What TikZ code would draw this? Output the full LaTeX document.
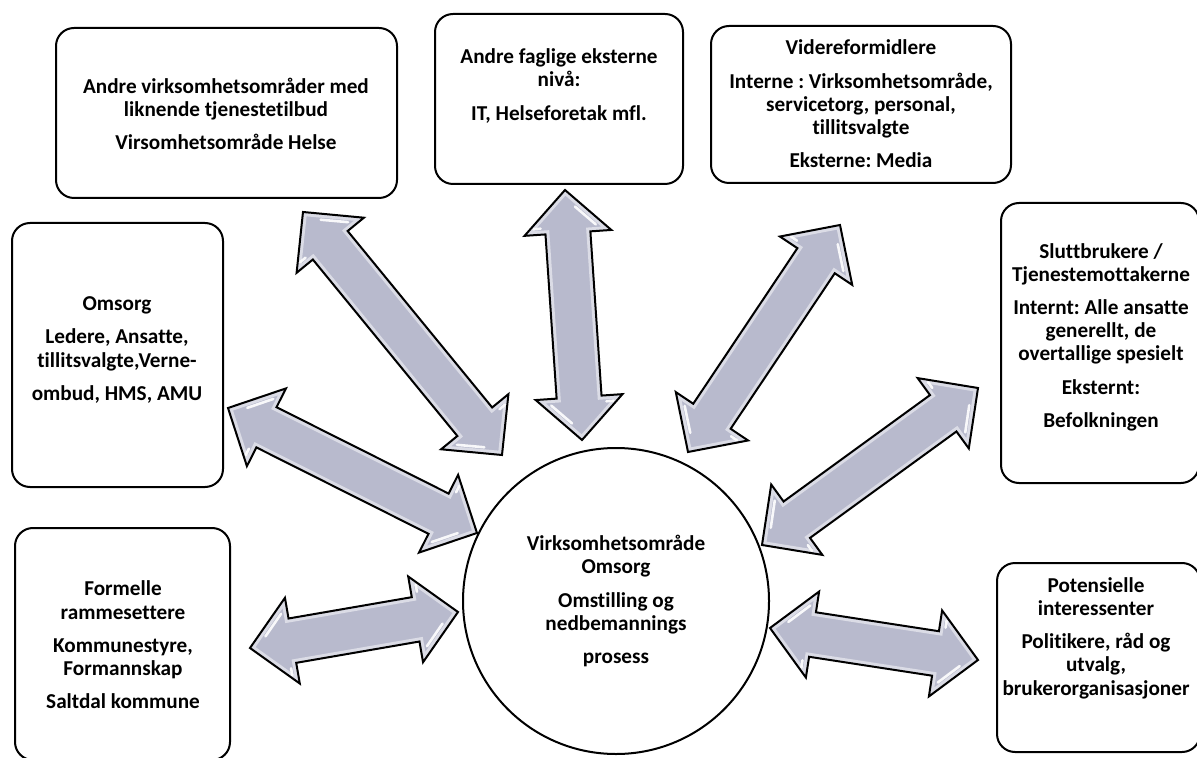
\documentclass[tikz,border=0pt]{standalone}
\usepackage{fontspec}
\setmainfont{Carlito}[Ligatures=NoCommon]
\usetikzlibrary{calc}
\definecolor{arrfill}{RGB}{184,186,205}
\def\arhl{21.5pt}
\def\arhw{21.75pt}
\def\arsw{11.25pt}
\def\arshape{(0pt,0pt) -- (\arhl,\arhw) -- (\arhl,\arsw) -- (\n2-\arhl,\arsw) -- (\n2-\arhl,\arhw) -- (\n2,0pt) -- (\n2-\arhl,-\arhw) -- (\n2-\arhl,-\arsw) -- (\arhl,-\arsw) -- (\arhl,-\arhw) -- cycle}
\def\arglint{(8.6pt,4.4pt) -- (18.2pt,14.2pt) (18.5pt,-13.5pt) -- (18.5pt,-17pt) (\n2-8.6pt,-4.4pt) -- (\n2-18.2pt,-14.2pt) (\n2-18.5pt,13.5pt) -- (\n2-18.5pt,17pt)}
\newcommand\dblarrow[2]{%
  \begin{scope}
    \path[clip] let \p1=($(#2)-(#1)$),\n1={atan2(\y1,\x1)},\n2={veclen(\x1,\y1)} in [shift={(#1)},rotate=\n1] \arshape;
    \fill[arrfill] let \p1=($(#2)-(#1)$),\n1={atan2(\y1,\x1)},\n2={veclen(\x1,\y1)} in [shift={(#1)},rotate=\n1] \arshape;
    \draw[white,line width=4pt,opacity=.5] let \p1=($(#2)-(#1)$),\n1={atan2(\y1,\x1)},\n2={veclen(\x1,\y1)} in [shift={(#1)},rotate=\n1] \arshape;
    \draw[white,line width=1.3pt,line cap=round,opacity=.9] let \p1=($(#2)-(#1)$),\n1={atan2(\y1,\x1)},\n2={veclen(\x1,\y1)} in [shift={(#1)},rotate=\n1] \arglint;
  \end{scope}
  \draw[black,line width=1pt,line join=miter] let \p1=($(#2)-(#1)$),\n1={atan2(\y1,\x1)},\n2={veclen(\x1,\y1)} in [shift={(#1)},rotate=\n1] \arshape;
}
\tikzset{
  box/.style={draw, line width=1pt, rounded corners=9pt, inner sep=0pt},
  txt/.style={font=\frenchspacing\bfseries\fontsize{10.6}{11.6}\selectfont, align=center, inner sep=0pt},
}
\begin{document}
\begin{tikzpicture}[x=0.5pt,y=-0.5pt]
\fill[white] (0,0) rectangle (1197,758);
\useasboundingbox (0,0) rectangle (1197,758);

% boxes
\node[box, minimum width=170.5pt, minimum height=85pt] (b1) at (226.5,113) {};
\node[box, minimum width=124pt, minimum height=85pt] (b2) at (559,99) {};
\node[box, minimum width=150pt, minimum height=78.5pt] (b3) at (861,104.5) {};
\node[box, minimum width=105.5pt, minimum height=132pt] (b4) at (117.5,355) {};
\node[box, minimum width=99pt, minimum height=140pt] (b5) at (1100,343) {};
\node[box, minimum width=107.5pt, minimum height=116pt] (b6) at (122.5,644) {};
\node[box, minimum width=101.5pt, minimum height=94.5pt] (b7) at (1098.5,657.5) {};

% texts
\node[txt] (t1) at (226,114) {Andre virksomhetsområder med\\ liknende tjenestetilbud\\[5pt] Virsomhetsområde Helse};
\node[txt] (t2) at (559,86) {Andre faglige eksterne\\ nivå:\\[5pt] IT, Helseforetak mfl.};
\node[txt] (t3) at (861,104) {Videreformidlere\\[5pt] Interne : Virksomhetsområde,\\ servicetorg, personal,\\ tillitsvalgte\\[5pt] Eksterne: Media};
\node[txt] (t4) at (117,350) {Omsorg\\[5pt] Ledere, Ansatte,\\ tillitsvalgte,Verne-\\[5pt] ombud, HMS, AMU};
\node[txt] (t5) at (1101,337) {Sluttbrukere /\\ Tjenestemottakerne\\[5pt] Internt: Alle ansatte\\ generellt, de\\ overtallige spesielt\\[5pt] Eksternt:\\[5pt] Befolkningen};
\node[txt] (t6) at (123,645) {Formelle\\ rammesettere\\[5pt] Kommunestyre,\\ Formannskap\\[5pt] Saltdal kommune};
\node[txt] (t7) at (1096,638) {Potensielle\\ interessenter\\[5pt] Politikere, råd og\\ utvalg,\\ brukerorganisasjoner};

% centre circle
\node[circle, draw, line width=1pt, minimum size=153pt, inner sep=0pt, txt] (c) at (616,601) {Virksomhetsområde\\ Omsorg\\[5pt] Omstilling og\\ nedbemannings\\[5pt] prosess};

% arrow end points
\coordinate (a1s) at (303,212); \coordinate (a1e) at (502,455);
\coordinate (a2s) at (565,190); \coordinate (a2e) at (582,440);
\coordinate (a3s) at (840,225); \coordinate (a3e) at (688,452);
\coordinate (a4s) at (228,408); \coordinate (a4e) at (477,533);
\coordinate (a5s) at (978,388); \coordinate (a5e) at (762,545);
\coordinate (a6s) at (250,648); \coordinate (a6e) at (458,612);
\coordinate (a7s) at (770,628); \coordinate (a7e) at (978,660);

\dblarrow{a1s}{a1e}
\dblarrow{a2s}{a2e}
\dblarrow{a3s}{a3e}
\dblarrow{a4s}{a4e}
\dblarrow{a5s}{a5e}
\dblarrow{a6s}{a6e}
\dblarrow{a7s}{a7e}
\end{tikzpicture}
\end{document}
